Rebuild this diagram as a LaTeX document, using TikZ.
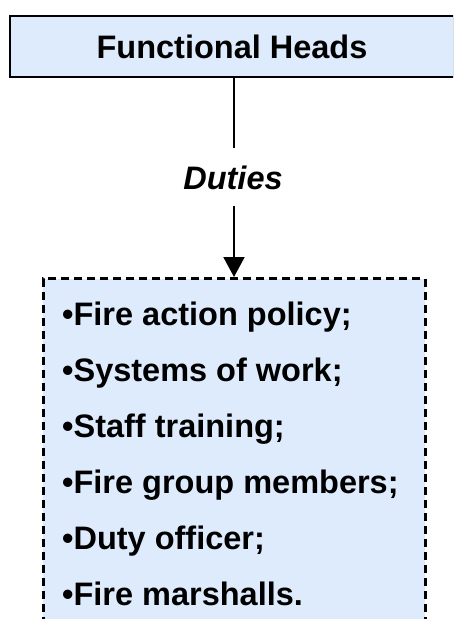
\documentclass[tikz,border=0pt]{standalone}
\usepackage{fontspec}
\setmainfont{Liberation Sans}
\usetikzlibrary{arrows.meta}
\definecolor{boxfill}{RGB}{221,235,252}
\begin{document}
\begin{tikzpicture}[x=1pt,y=-1pt,
  bigfont/.style={font=\fontsize{32.5}{38}\selectfont\bfseries},
  headbox/.style={draw=black, line width=2.5pt, fill=boxfill, minimum width=444pt, minimum height=61pt, inner sep=0pt, bigfont},
  listbox/.style={draw=black, line width=3pt, dash pattern=on 8pt off 5pt, fill=boxfill, minimum width=382pt, minimum height=380pt, inner sep=0pt},
  label/.style={inner sep=0pt, text height=23pt, text depth=0pt, font=\fontsize{32.5}{38}\selectfont\bfseries\itshape},
  item/.style={anchor=base west, inner sep=0pt, bigfont},
  conn/.style={line width=2pt, draw=black}]
\useasboundingbox (0,0) rectangle (453,619);
\clip (0,0) rectangle (453,619);
\node[headbox] (heads) at (232,46.5) {Functional Heads};
\node[listbox, anchor=north] (list) at (234,277) {};
\node[label, anchor=base] (duties) at (233,189) {Duties};
\draw[conn] (heads.south -| list.north) -- ([yshift=18pt]duties.north -| list.north);
\draw[conn, -{Triangle[width=21pt,length=20pt]}] ([yshift=-17pt]duties.south -| list.north) -- (list.north);
\node[item] (i1) at (62,325) {•Fire action policy;};
\node[item] (i2) at (62,381) {•Systems of work;};
\node[item] (i3) at (62,437) {•Staff training;};
\node[item] (i4) at (62,493) {•Fire group members;};
\node[item] (i5) at (62,549) {•Duty officer;};
\node[item] (i6) at (62,605) {•Fire marshalls.};
\end{tikzpicture}
\end{document}
